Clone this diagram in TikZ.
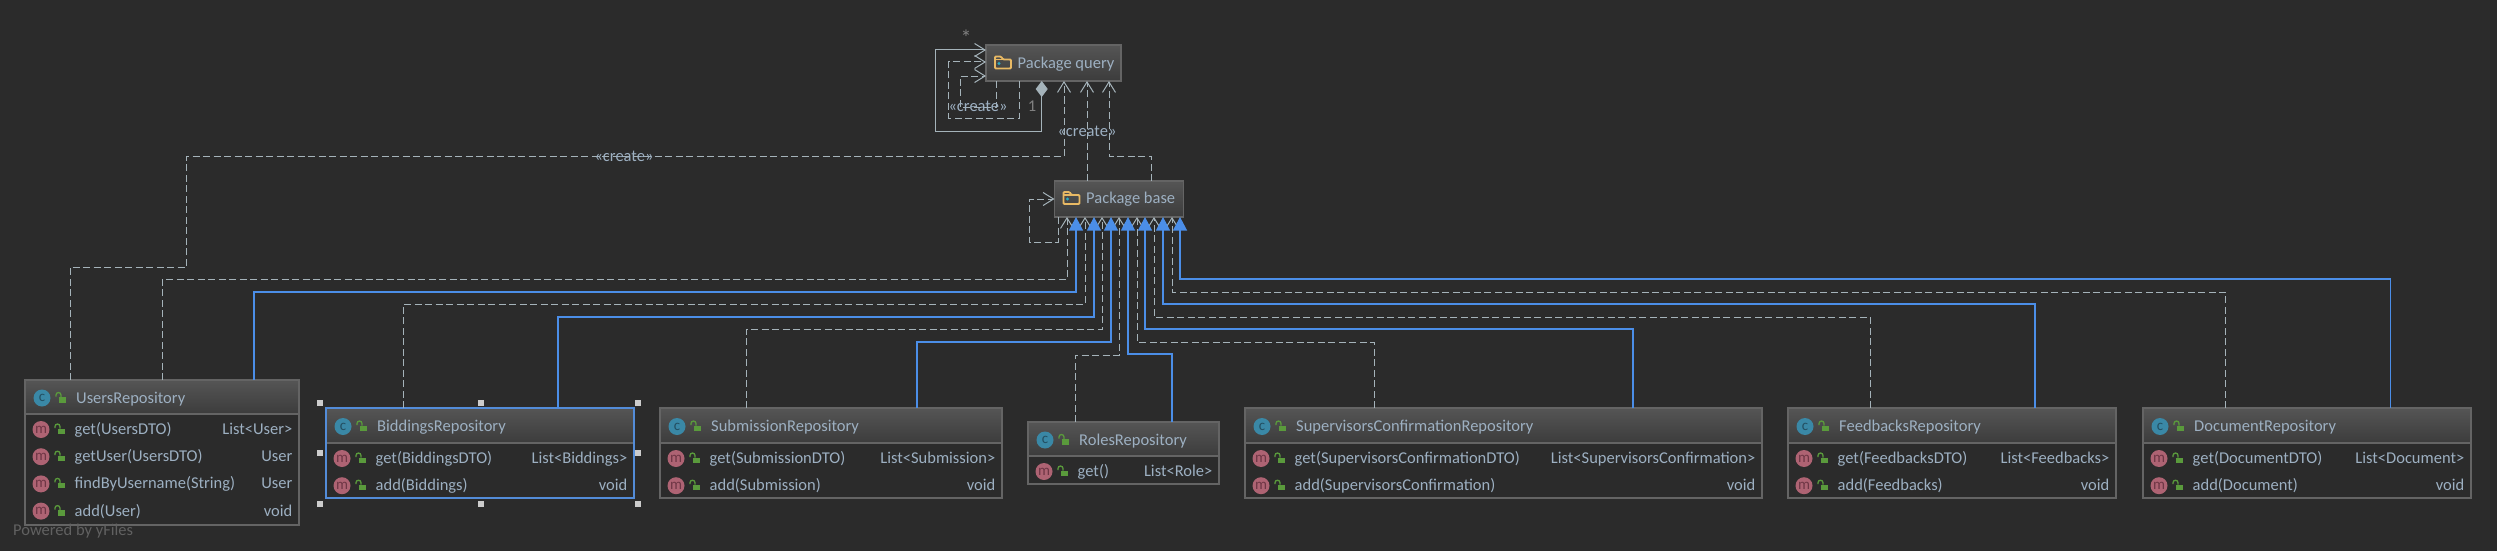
\documentclass[tikz,border=0pt]{standalone}
\usepackage{fontspec}
\setmainfont{Carlito}
\usetikzlibrary{arrows.meta}

\definecolor{canvas}{HTML}{2B2B2B}
\definecolor{frameline}{HTML}{646464}
\definecolor{headtop}{HTML}{555555}
\definecolor{headbottom}{HTML}{3C3C3C}
\definecolor{labeltext}{HTML}{9DB0C2}
\definecolor{depline}{HTML}{A5B3BA}
\definecolor{inheritblue}{HTML}{4B8EE8}
\definecolor{lockgreen}{HTML}{5A9A3C}
\definecolor{foldertone}{HTML}{E8B964}
\definecolor{classfill}{HTML}{3A88A6}
\definecolor{classletter}{HTML}{234F62}
\definecolor{methodfill}{HTML}{AE6373}
\definecolor{methodletter}{HTML}{6E3645}

\tikzset{
    textstyle/.style = {font=\fontsize{16.5}{18}\selectfont, text=labeltext, inner sep=0pt},
    repobox/.style = {fill=canvas, anchor=north west, inner sep=0pt, outer sep=0pt},
    frame/.style = {draw=frameline, line width=1.4pt},
    header/.style = {top color=headtop, bottom color=headbottom},
    classicon/.style = {circle, fill=classfill, text=classletter, minimum size=17pt, inner sep=0pt, font=\fontsize{15}{15}\selectfont},
    methodicon/.style = {circle, fill=methodfill, text=methodletter, minimum size=17pt, inner sep=0pt, font=\fontsize{15}{15}\selectfont},
    lockicon/.pic = {
        \fill[lockgreen] (-2.5, -1) rectangle (5, 4.5);
        \draw[lockgreen, line width=1.3pt] (0, -1) -- (0, -3) arc[start angle=0, end angle=-180, radius=2.5] -- (-5, -1.5);
    },
    foldericon/.pic = {
        \draw[foldertone, line width=1.8pt, rounded corners=1pt] (-8, -3) -- (-8, -6) -- (-2, -6) -- (0, -3) -- (8, -3) -- (8, 6) -- (-8, 6) -- cycle;
        \draw[foldertone, line width=1.8pt] (-8, -3) -- (0, -3);
        \fill[classfill!70!cyan] (-4, 1) circle (1.7);
    },
    dep/.style = {draw=depline, line width=1pt, dash pattern=on 7pt off 3.5pt, -{Straight Barb[length=10.5pt, width=13pt]}},
    composition/.style = {draw=depline, line width=1pt, {Diamond[length=16pt, width=12pt, fill=depline]}-{Straight Barb[length=10.5pt, width=13pt]}},
    inherit/.style = {draw=inheritblue, line width=1.1pt, -{Triangle[length=13.5pt, width=14pt, fill=inheritblue]}},
    handle/.style = {fill=black!20, minimum size=6pt, inner sep=0pt},
}

% name, left, top, right, bottom, header height, title, methods
\newcommand{\repo}[8]{
    \node[repobox, minimum width={(#4-#2)*1pt}, minimum height={(#5-#3)*1pt}] (#1) at (#2, #3) {};
    \fill[header] (#1.north west) rectangle ([yshift=-#6pt]#1.north east);
    \draw[frame] (#1.north west) rectangle (#1.south east);
    \draw[frame] ([yshift=-#6pt]#1.north west) -- ([yshift=-#6pt]#1.north east);
    \pgfmathsetmacro{\heady}{#3+#6/2+1}
    \node[classicon] (#1-icon) at (#2+17, \heady) {c};
    \pic at (#2+36, \heady) {lockicon};
    \node[textstyle, anchor=base west] (#1-title) at (#2+51, \heady+5) {#7};
    \foreach \mname/\mtype [count=\i] in {#8} {
        \pgfmathsetmacro{\rowy}{#3+#6+15.5+(\i-1)*27.2}
        \node[methodicon] (#1-m\i) at (#2+16, \rowy) {m};
        \pic at (#2+35, \rowy) {lockicon};
        \node[textstyle, anchor=base west] (#1-name\i) at (#2+49.5, \rowy+5) {\mname};
        \node[textstyle, anchor=base east] (#1-type\i) at (#4-6.5, \rowy+5) {\mtype};
    }
}

\newcommand{\package}[7]{
    \node[repobox, minimum width={(#4-#2)*1pt}, minimum height={(#5-#3)*1pt}] (#1) at (#2, #3) {};
    \fill[header] (#1.north west) rectangle (#1.south east);
    \draw[frame] (#1.north west) rectangle (#1.south east);
    \pic at (#2+17, #6) {foldericon};
    \node[textstyle, anchor=base west] (#1-title) at (#2+31.5, #6+5.5) {#7};
}

\begin{document}
\begin{tikzpicture}[x=1pt, y=-1pt]
    \fill[canvas] (0, 0) rectangle (2497, 551);
    \useasboundingbox (0, 0) rectangle (2497, 551);

    \package{query}{986}{45}{1121}{81}{62.5}{Package query}
    \package{base}{1054.5}{181}{1183.5}{217}{198}{Package base}

    \repo{users}{25}{380}{299}{525}{34}{UsersRepository}{get(UsersDTO)/List<User>, getUser(UsersDTO)/User, findByUsername(String)/User, add(User)/void}
    \repo{biddings}{326}{408}{634}{498}{35}{BiddingsRepository}{get(BiddingsDTO)/List<Biddings>, add(Biddings)/void}
    \repo{submission}{660}{408}{1002}{498}{35}{SubmissionRepository}{get(SubmissionDTO)/List<Submission>, add(Submission)/void}
    \repo{roles}{1028}{422}{1219}{484}{34}{RolesRepository}{get()/List<Role>}
    \repo{supervisors}{1245}{408}{1762}{498}{35}{SupervisorsConfirmationRepository}{get(SupervisorsConfirmationDTO)/List<SupervisorsConfirmation>, add(SupervisorsConfirmation)/void}
    \repo{feedbacks}{1788}{408}{2116}{498}{35}{FeedbacksRepository}{get(FeedbacksDTO)/List<Feedbacks>, add(Feedbacks)/void}
    \repo{document}{2143}{408}{2471}{498}{35}{DocumentRepository}{get(DocumentDTO)/List<Document>, add(Document)/void}

    % the selected class
    \draw[draw=inheritblue!85!gray, line width=1.4pt] (biddings.north west) rectangle (biddings.south east);
    \foreach \hx/\hy [count=\i] in {320/403, 481/403, 638/403, 320/453, 638/453, 320/504, 481/504, 638/504} {
        \node[handle] (handle\i) at (\hx, \hy) {};
    }

    % every repository depends on base twice
    \foreach \target/\px/\py/\tx in {users/1067/279/162, biddings/1085/304/403, submission/1102/329/746, roles/1119/355/1075, supervisors/1137/342/1374, feedbacks/1154/317/1870, document/1172/292/2225.6} {
        \draw[dep] (\tx, 0 |- \target.north) |- (\px, \py) -- (\px, 0 |- base.south);
    }
    \foreach \target/\px/\py/\tx in {users/1076/292/254, biddings/1094/317/558, submission/1111/342/917, roles/1128/354/1172, supervisors/1145/329/1633, feedbacks/1163/304/2035, document/1180/279/2390.5} {
        \draw[inherit] (\tx, 0 |- \target.north) |- (\px, \py) -- (\px, 0 |- base.south);
    }
    \draw[dep] (1058, 0 |- base.south) |- (1029, 242) |- (base.west);

    % to query
    \draw[dep] (70, 0 |- users.north) |- (186.6, 267) |- (1064, 156) -- (1064, 0 |- query.south);
    \draw[dep] (1087, 0 |- base.north) -- (1087, 0 |- query.south);
    \draw[dep] (1151.5, 0 |- base.north) |- (1109, 156) -- (1109, 0 |- query.south);
    \draw[composition] (1041.7, 0 |- query.south) |- (935, 131.7) |- (query.west |- 0, 50);
    \draw[dep] (1019, 0 |- query.south) |- (948.7, 118) |- (query.west |- 0, 62);
    \draw[dep] (996.7, 0 |- query.south) |- (960, 107) |- (query.west |- 0, 76);

    \node[textstyle] (createleft) at (978, 106) {«create»};
    \node[textstyle] (createmid) at (1087, 131) {«create»};
    \node[textstyle] (createlong) at (624, 156) {«create»};
    \node[textstyle, text=gray, font=\fontsize{22}{22}\selectfont] (many) at (966, 38) {*};
    \node[textstyle, text=gray] (one) at (1032, 106) {1};
    \node[textstyle, text=black!62, anchor=west] (powered) at (13, 531) {Powered by yFiles};
\end{tikzpicture}
\end{document}
